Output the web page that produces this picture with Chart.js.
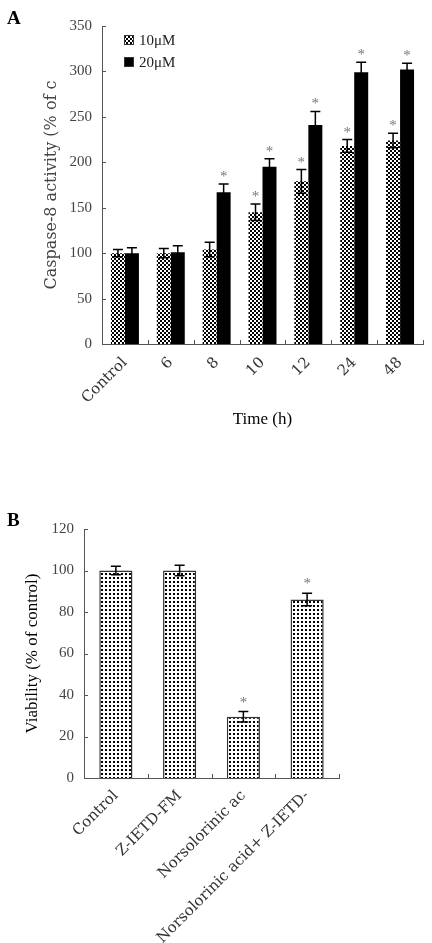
<!DOCTYPE html>
<html>
<head>
<meta charset="utf-8">
<script src="https://cdn.jsdelivr.net/npm/chart.js@4.4.0/dist/chart.umd.min.js"></script>
<style>
body { margin: 0; background: #fff; width: 432px; height: 943px; position: relative; overflow: hidden; }
canvas { position: absolute; left: 0; }
#chartA { top: 0; }
#chartB { top: 480px; }
</style>
</head>
<body>
<canvas id="chartA" width="432" height="440"></canvas>
<canvas id="chartB" width="432" height="463"></canvas>
<script>
// panel A - caspase-8 activity over time
const timeLabels = ['Control', '6', '8', '10', '12', '24', '48'];
const dose10 = [100, 100, 104, 145, 179, 218, 224];
const dose10Err = [4, 5, 8, 9, 13, 7, 8];
const dose10Star = [0, 0, 0, 1, 1, 1, 1];
const dose20 = [100, 101, 167, 195, 241, 299, 302];
const dose20Err = [6, 7, 9, 9, 15, 11, 7];
const dose20Star = [0, 0, 1, 1, 1, 1, 1];
const doseLabels = ['10μM', '20μM'];
const caspaseTicks = [0, 350, 50];

// panel B - viability
const treatLabels = ['Control', 'Z-IETD-FM', 'Norsolorinic ac', 'Norsolorinic acid+ Z-IETD-'];
const viability = [100, 100, 29.5, 86];
const viabilityErr = [2, 2.5, 2.5, 3];
const viabilityStar = [0, 0, 1, 1];
const viabilityTicks = [0, 120, 20];

function makePattern(kind) {
    const c = document.createElement('canvas');
    c.width = 4; c.height = 4;
    const g = c.getContext('2d');
    g.fillStyle = '#fff';
    g.fillRect(0, 0, 4, 4);
    g.fillStyle = '#000';
    if (kind === 'checker') {
        g.fillRect(0, 0, 2, 2);
        g.fillRect(2, 2, 2, 2);
    } else {
        g.fillRect(1, 1, 2, 2);
    }
    return g.createPattern(c, 'repeat');
}

const serif = '"Liberation Serif", "Times New Roman", serif';
const wideSerif = '"DejaVu Serif", serif';

// error bars, stars, inner tick marks, panel letter, legend
const decoPlugin = {
    id: 'deco',
    afterDatasetsDraw(chart, args, opts) {
        const ctx = chart.ctx;
        const x = chart.scales.x, y = chart.scales.y;
        ctx.save();
        chart.data.datasets.forEach((ds, i) => {
            const meta = chart.getDatasetMeta(i);
            meta.data.forEach((bar, j) => {
                const v = ds.data[j], e = ds.errors[j];
                const top = y.getPixelForValue(v + e);
                const bot = y.getPixelForValue(v - e);
                ctx.strokeStyle = '#000';
                ctx.lineWidth = 1.5;
                ctx.beginPath();
                ctx.moveTo(bar.x, top); ctx.lineTo(bar.x, bot);
                ctx.moveTo(bar.x - opts.cap, top); ctx.lineTo(bar.x + opts.cap, top);
                ctx.moveTo(bar.x - opts.cap, bot); ctx.lineTo(bar.x + opts.cap, bot);
                ctx.stroke();
                if (ds.stars[j]) {
                    ctx.fillStyle = '#777';
                    ctx.font = '15px ' + serif;
                    ctx.textAlign = 'center';
                    ctx.textBaseline = 'alphabetic';
                    ctx.fillText('*', bar.x, top - opts.starGap);
                }
            });
        });

        ctx.strokeStyle = '#555';
        ctx.lineWidth = 1;
        ctx.beginPath();
        y.ticks.forEach(t => {
            const py = Math.round(y.getPixelForValue(t.value)) + 0.5;
            ctx.moveTo(x.left, py); ctx.lineTo(x.left + 4, py);
        });
        const n = x.ticks.length, w = (x.right - x.left) / n;
        for (let k = 1; k <= n; k++) {
            const px = Math.round(x.left + k * w) + 0.5;
            ctx.moveTo(px, y.bottom); ctx.lineTo(px, y.bottom - 4);
        }
        ctx.stroke();

        ctx.fillStyle = '#000';
        ctx.font = 'bold 19px ' + serif;
        ctx.textAlign = 'left';
        ctx.textBaseline = 'alphabetic';
        ctx.fillText(opts.letter, 7, opts.letterY);

        if (opts.legend) {
            ctx.font = '15px ' + serif;
            ctx.textBaseline = 'middle';
            chart.data.datasets.forEach((ds, i) => {
                const by = opts.legend.y + i * opts.legend.gap;
                ctx.fillStyle = ds.backgroundColor;
                ctx.fillRect(opts.legend.x, by - 5, 10, 10);
                ctx.strokeStyle = '#333';
                ctx.strokeRect(opts.legend.x + 0.5, by - 4.5, 9, 9);
                ctx.fillStyle = '#222';
                ctx.fillText(ds.label, opts.legend.x + 15, by + 1);
            });
        }
        ctx.restore();
    }
};

function axisOpts(ticks, yWidth, xHeight, xPad, yTitle, yTitlePad, xTitle, yTitleFont) {
    return {
        x: {
            grid: { display: false, drawTicks: false },
            border: { color: '#555', width: 1 },
            ticks: {
                autoSkip: false, minRotation: 45, maxRotation: 45, padding: xPad,
                color: '#333', font: { family: wideSerif, size: 15 }
            },
            title: xTitle ? {
                display: true, text: xTitle, color: '#000',
                font: { family: serif, size: 17 }, padding: { top: 0, bottom: 10 }
            } : { display: false },
            afterFit: s => { s.height = xHeight; }
        },
        y: {
            min: ticks[0], max: ticks[1],
            grid: { display: false, drawTicks: false },
            border: { color: '#555', width: 1 },
            ticks: {
                stepSize: ticks[2], padding: 10,
                color: '#444', font: { family: serif, size: 15 }
            },
            title: {
                display: true, text: yTitle, color: yTitleFont.color,
                font: yTitleFont.font, padding: { top: yTitlePad, bottom: 0 }
            },
            afterFit: s => { s.width = yWidth; }
        }
    };
}

new Chart(document.getElementById('chartA'), {
    type: 'bar',
    data: {
        labels: timeLabels,
        datasets: [
            { label: doseLabels[0], data: dose10, errors: dose10Err, stars: dose10Star,
              backgroundColor: makePattern('checker'), borderWidth: 0 },
            { label: doseLabels[1], data: dose20, errors: dose20Err, stars: dose20Star,
              backgroundColor: '#000', borderWidth: 0 }
        ]
    },
    options: {
        responsive: false,
        animation: false,
        layout: { padding: { top: 26, right: 9, left: 0, bottom: 0 } },
        datasets: { bar: { categoryPercentage: 0.61, barPercentage: 1.0 } },
        scales: axisOpts(caspaseTicks, 102, 96, 10, 'Caspase-8 activity (% of c', 42, 'Time (h)',
            { color: '#444', font: { family: wideSerif, size: 16 } }),
        plugins: {
            legend: { display: false },
            tooltip: { enabled: false },
            deco: { cap: 5, starGap: 3, letter: 'A', letterY: 24,
                    legend: { x: 124, y: 40, gap: 22 } }
        }
    },
    plugins: [decoPlugin]
});

new Chart(document.getElementById('chartB'), {
    type: 'bar',
    data: {
        labels: treatLabels,
        datasets: [
            { label: 'Viability', data: viability, errors: viabilityErr, stars: viabilityStar,
              backgroundColor: makePattern('dots'), borderColor: '#333', borderWidth: 1.5 }
        ]
    },
    options: {
        responsive: false,
        animation: false,
        layout: { padding: { top: 49, right: 93, left: 0, bottom: 0 } },
        datasets: { bar: { categoryPercentage: 1.0, barPercentage: 0.52 } },
        scales: axisOpts(viabilityTicks, 84, 165, 9, 'Viability (% of control)', 22, null,
            { color: '#000', font: { family: serif, size: 17 } }),
        plugins: {
            legend: { display: false },
            tooltip: { enabled: false },
            deco: { cap: 5, starGap: 5, letter: 'B', letterY: 46, legend: null }
        }
    },
    plugins: [decoPlugin]
});
</script>
</body>
</html>
